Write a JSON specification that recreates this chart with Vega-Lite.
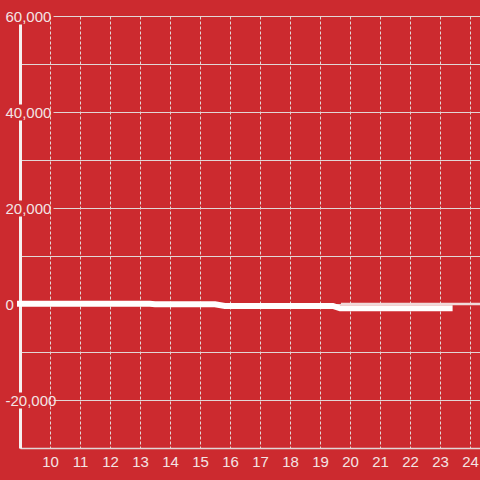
{
  "$schema": "https://vega.github.io/schema/vega-lite/v6.json",
  "width": 460,
  "height": 432,
  "autosize": {"type": "none"},
  "padding": {"left": 20, "top": 16, "right": 0, "bottom": 32},
  "background": "#cc2a2f",
  "config": {
    "view": {"stroke": null},
    "font": "Liberation Sans",
    "axis": {"labelFont": "Liberation Sans", "labelFontSize": 15, "labelColor": "#f3e4e4", "title": null}
  },
  "data": {
    "values": [
      {"series": "A", "x": 9, "y": 30},
      {"series": "A", "x": 13.33, "y": 30},
      {"series": "A", "x": 13.5, "y": -60},
      {"series": "A", "x": 15.5, "y": -60},
      {"series": "A", "x": 15.83, "y": -420},
      {"series": "A", "x": 19.43, "y": -420},
      {"series": "A", "x": 19.67, "y": -900},
      {"series": "A", "x": 23.32, "y": -900},
      {"series": "B", "x": 19.74, "y": 0},
      {"series": "B", "x": 24.33, "y": 0}
    ]
  },
  "encoding": {
    "x": {
      "field": "x", "type": "quantitative",
      "scale": {"domain": [9, 24.3333], "nice": false, "zero": false},
      "axis": {
        "values": [10, 11, 12, 13, 14, 15, 16, 17, 18, 19, 20, 21, 22, 23, 24],
        "grid": true, "gridColor": "#e2d6d6", "gridDash": [3, 2], "gridWidth": 1,
        "domainColor": "#e2d6d6", "domainWidth": 1.5,
        "ticks": false, "tickSize": 0, "labelPadding": 6,
        "labelFlush": false, "labelOverlap": false
      }
    },
    "y": {
      "field": "y", "type": "quantitative",
      "scale": {"domain": [-30000, 60000], "nice": false, "zero": false},
      "axis": {
        "values": [-30000, -20000, -10000, 0, 10000, 20000, 30000, 40000, 50000, 60000],
        "labelExpr": "datum.value % 20000 != 0 ? '' : (datum.value < 0 ? '-' + format(-datum.value, ',') : format(datum.value, ','))",
        "grid": true, "gridColor": "#e2d6d6", "gridWidth": 1,
        "gridDash": {"condition": {"test": "datum.value % 20000 == 0 && datum.value != 0", "value": [0, 33, 500, 0]}, "value": [500, 0]},
        "domainColor": "#f6f0f0", "domainWidth": 3,
        "domainDash": [40, 16, 176, 16, 80, 16, 80, 8],
        "ticks": false, "tickSize": 0, "labelPadding": 15,
        "labelAlign": "left", "labelBaseline": "middle", "labelOverlap": false, "labelFlush": false
      }
    }
  },
  "layer": [
    {
      "transform": [{"filter": "datum.series == 'A'"}],
      "mark": {"type": "line", "color": "#ffffff", "strokeWidth": 6, "strokeCap": "square"}
    },
    {
      "transform": [{"filter": "datum.series == 'B'"}],
      "mark": {"type": "line", "color": "#f0dada", "strokeWidth": 2.5, "strokeCap": "square"}
    }
  ]
}
